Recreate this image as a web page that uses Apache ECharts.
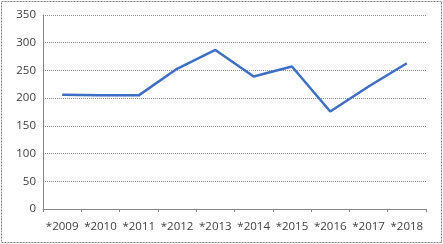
<!DOCTYPE html>
<html><head><meta charset="utf-8">
<script src="https://cdn.jsdelivr.net/npm/echarts@6/dist/echarts.min.js"></script>
<style>html,body{margin:0;padding:0;background:#fff}#c{width:443px;height:244px}</style>
</head><body><div id="c"></div>
<script>
const categories = ['*2009','*2010','*2011','*2012','*2013','*2014','*2015','*2016','*2017','*2018'];
const values = [206, 205, 205, 253, 287, 239, 257, 176, 221, 263];
const yTicks = [0, 50, 100, 150, 200, 250, 300, 350];

const chart = echarts.init(document.getElementById('c'), null, {renderer: 'canvas'});
chart.setOption({
  animation: false,
  backgroundColor: '#fff',
  graphic: [
    {type: 'rect', shape: {x: 1.5, y: 1.5, width: 440, height: 241}, style: {fill: '#fff', stroke: '#7f7f7f', lineWidth: 1, lineDash: [2, 1]}, z: -1}
  ],
  grid: {left: 43, right: 17, top: 15, bottom: 35, containLabel: false},
  xAxis: {
    type: 'category',
    data: categories,
    boundaryGap: true,
    axisLine: {lineStyle: {color: '#868686', width: 1}},
    axisTick: {show: true, length: 3, inside: false, lineStyle: {color: '#868686'}},
    axisLabel: {color: '#404040', fontFamily: 'Open Sans', fontSize: 11.5, margin: 12, interval: 0}
  },
  yAxis: {
    type: 'value',
    min: 0, max: 350, interval: 50,
    axisLine: {show: true, lineStyle: {color: '#868686', width: 1}},
    axisTick: {show: false},
    splitLine: {lineStyle: {color: '#8c8c8c', type: [1, 1], width: 1}},
    axisLabel: {color: '#404040', fontFamily: 'Open Sans', fontSize: 11.5, margin: 7,
      formatter: v => yTicks.includes(v) ? String(v) : ''}
  },
  series: [{
    type: 'line',
    data: values,
    symbol: 'none',
    lineStyle: {color: '#3D6FC4', width: 2.5},
    itemStyle: {color: '#3D6FC4'}
  }]
});
</script></body></html>
